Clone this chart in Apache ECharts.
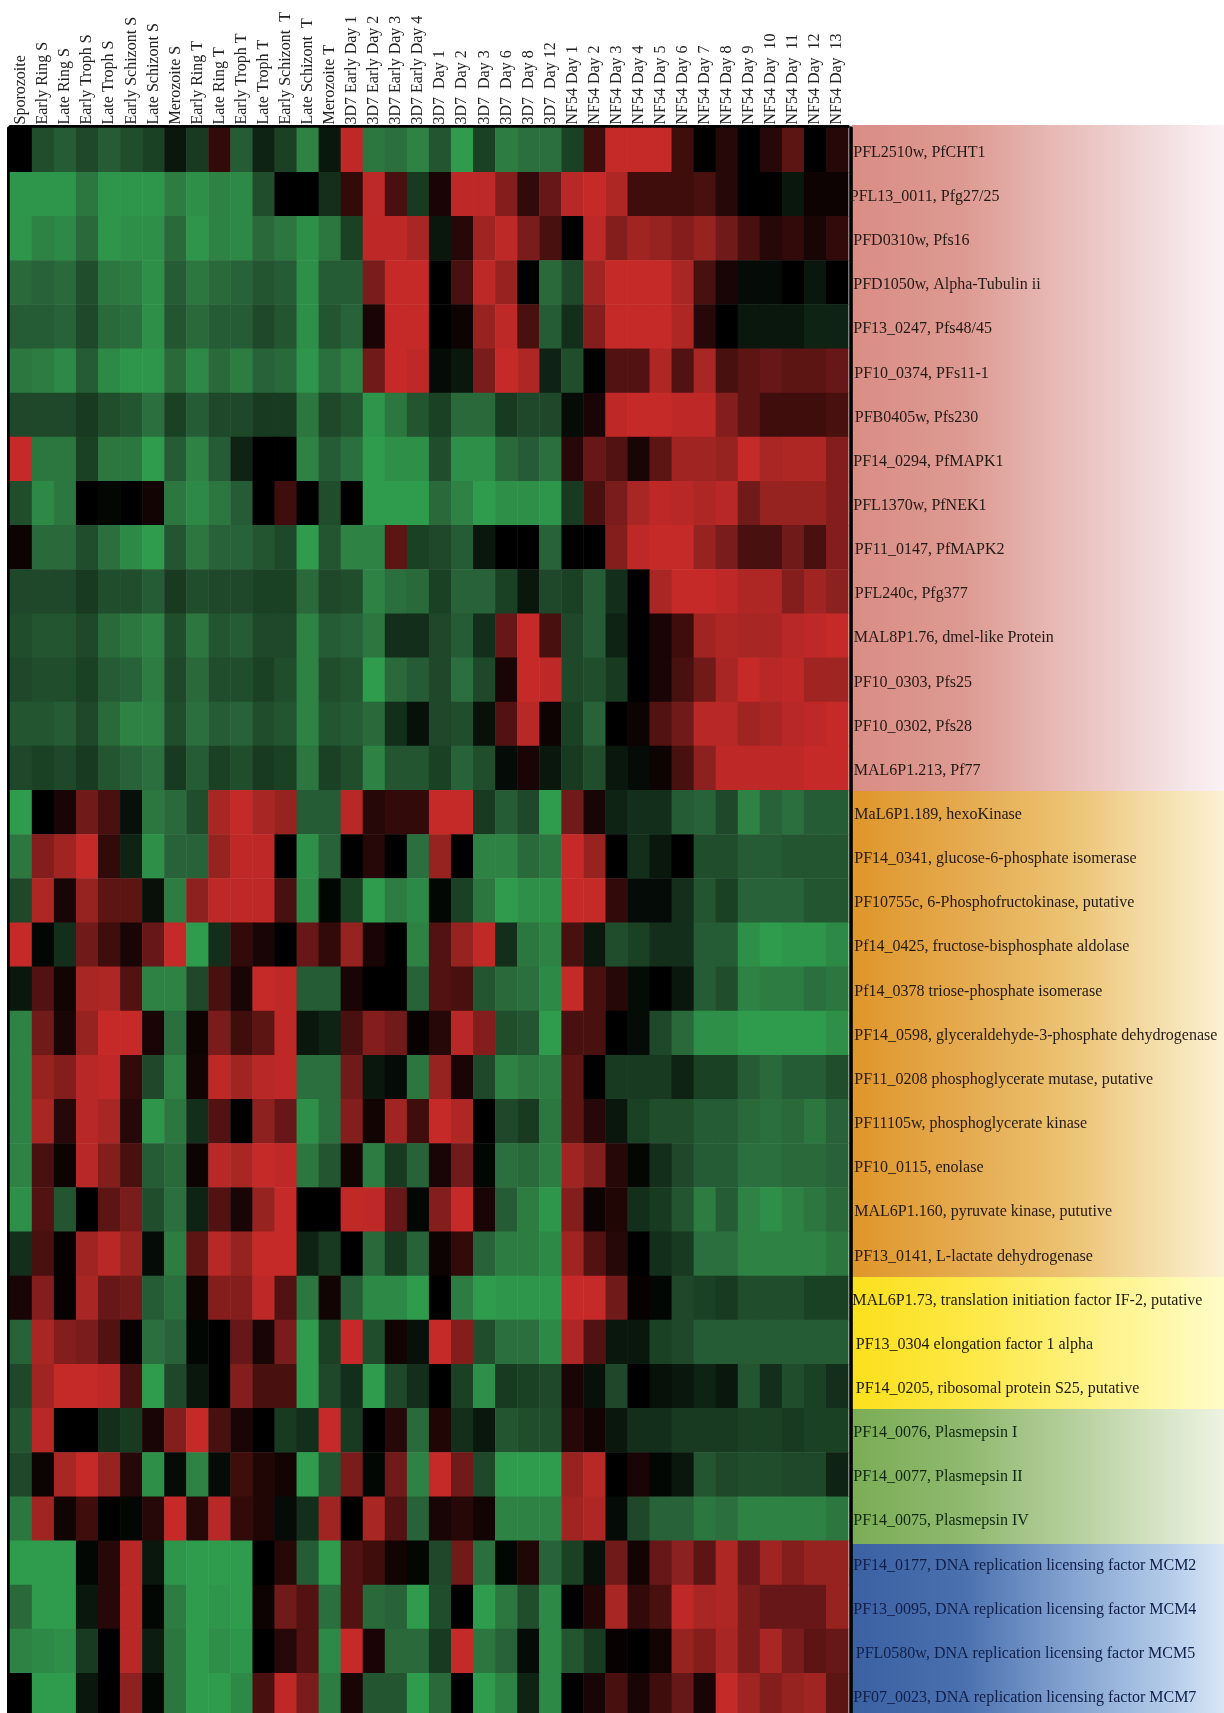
<!DOCTYPE html>
<html><head><meta charset="utf-8">
<script src="https://cdn.jsdelivr.net/npm/echarts@6/dist/echarts.min.js"></script>
<style>html,body{margin:0;padding:0;background:#fff;overflow:hidden;height:1713px}#c{width:1224px;height:1720px}</style>
</head><body><div id="c"></div>
<script>
const stages = ["Sporozoite","Early Ring S","Late Ring S","Early Troph S","Late Troph S","Early Schizont S","Late Schizont S","Merozoite S","Early Ring T","Late Ring T","Early Troph T","Late Troph T","Early Schizont  T","Late Schizont  T","Merozoite T","3D7 Early Day 1","3D7 Early Day 2","3D7 Early Day 3","3D7 Early Day 4","3D7  Day 1","3D7  Day 2","3D7  Day 3","3D7  Day 6","3D7  Day 8","3D7  Day 12","NF54 Day 1","NF54 Day 2","NF54 Day 3","NF54 Day 4","NF54 Day 5","NF54 Day 6","NF54 Day 7","NF54 Day 8","NF54 Day 9","NF54 Day  10","NF54 Day  11","NF54 Day  12","NF54 Day  13"];
const genes = ["PFL2510w, PfCHT1","PFL13_0011, Pfg27/25","PFD0310w, Pfs16","PFD1050w, Alpha-Tubulin ii","PF13_0247, Pfs48/45","PF10_0374, PFs11-1","PFB0405w, Pfs230","PF14_0294, PfMAPK1","PFL1370w, PfNEK1","PF11_0147, PfMAPK2","PFL240c, Pfg377","MAL8P1.76, dmel-like Protein","PF10_0303, Pfs25","PF10_0302, Pfs28","MAL6P1.213, Pf77","MaL6P1.189, hexoKinase","PF14_0341, glucose-6-phosphate isomerase","PF10755c, 6-Phosphofructokinase, putative","Pf14_0425, fructose-bisphosphate aldolase","Pf14_0378 triose-phosphate isomerase","PF14_0598, glyceraldehyde-3-phosphate dehydrogenase","PF11_0208 phosphoglycerate mutase, putative","PF11105w, phosphoglycerate kinase","PF10_0115, enolase","MAL6P1.160, pyruvate kinase, pututive","PF13_0141, L-lactate dehydrogenase","MAL6P1.73, translation initiation factor IF-2, putative","PF13_0304 elongation factor 1 alpha","PF14_0205, ribosomal protein S25, putative","PF14_0076, Plasmepsin I","PF14_0077, Plasmepsin II","PF14_0075, Plasmepsin IV","PF14_0177, DNA replication licensing factor MCM2","PF13_0095, DNA replication licensing factor MCM4","PFL0580w, DNA replication licensing factor MCM5","PF07_0023, DNA replication licensing factor MCM7"];

// expression level per gene (rows) and stage (columns): -10 green .. 0 black .. +10 red
const gametocyteRows = [
[0,-4,-5,-3.5,-5,-4,-3,-1,-2.5,2,-5,-1.5,-3,-8,-1,9.5,-7,-6.5,-8,-4.5,-10,-3,-7.5,-6.5,-6.5,-3,2.5,10,10,10,2.5,0,1.5,0,1.5,4,0,1.5],
[-9.5,-9.5,-9.5,-7,-9.5,-9.5,-9.5,-7.5,-9,-8,-8.5,-4,0,0,-2,2,9.5,3,-2.5,1,9.5,9.5,6,2,4.5,9,10,8.5,2.5,2.5,2.5,3,1.5,0,0,-1,0.5,0.5],
[-9.5,-8,-8.5,-6,-9.5,-9,-9,-6,-9.5,-8,-8.5,-6,-7,-9,-7,-3,9.5,9.5,8,-1,1.5,7.5,9.5,5.5,3,0,9.5,6,7.5,7,6,7,5,3,1.5,2,1,2],
[-6,-5.5,-6,-4,-7,-7.5,-9,-5,-7,-6,-5.5,-4.5,-5,-9,-5,-5,5.5,10,10,0,3,9.5,7,0,-6,-3.5,7.5,10,10,10,8,3,1,-0.5,-0.5,0,-1,0],
[-5,-5,-5.5,-3.5,-6,-6.5,-9,-4.5,-6,-5,-5,-3.5,-4.5,-9,-4.5,-5.5,1,10,10,0,0.5,7,9.5,3,-5,-2,6,10,10,10,8.5,1.5,0,-1,-1,-1,-1.5,-1.5],
[-7,-7.5,-8.5,-5,-8.5,-9.5,-9.5,-6,-8.5,-6,-7.5,-5.5,-6,-9.5,-6.5,-8,5,10,9.5,-0.5,-1,5.5,10,8.5,-1.5,-4,0,3.5,3.5,8.5,3.5,8,3,4,4.5,4,4,4.5],
[-3.5,-3.5,-3.5,-2.5,-4,-4.5,-6.5,-3,-5,-3.5,-3.5,-2.5,-2.5,-7,-3.5,-4.5,-9.5,-7,-4.5,-3,-6,-6,-2.5,-3.5,-3.5,-0.5,1,9.5,10,10,9.5,9.5,6,4,2.5,2.5,2.5,3],
[10,-7,-7,-3,-7,-7,-10,-5,-8,-5,-1.5,0,0,-8,-5,-6.5,-10,-9,-9,-4,-9,-9,-6,-5,-6.5,1.5,4.5,3.5,1,4,7.5,7.5,7,9.8,8,8.5,8.5,6],
[-4,-8.5,-7,0,-0.3,0,0.7,-7,-8.5,-7,-5,0,2.5,0,-4,0,-10,-10,-10,-6,-8,-10,-9,-9,-9.5,-2.5,3,5.5,8,9.5,9,8.5,9,5,7,7,7,6],
[0.5,-6,-6,-4,-6.5,-8.5,-10,-4.5,-7,-5.5,-5.5,-4.5,-3.5,-10,-4.5,-8,-8,4,-3,-3.5,-5,-1,0,0,-5.5,0,0,6,9.5,10,10,7,5.5,3,3,5,3,6],
[-3.5,-3.5,-3.5,-2.5,-4,-4,-5,-2.5,-4,-3.5,-3.5,-3,-3,-6,-3.5,-4,-8,-6.5,-6,-3,-5.5,-5.5,-3,-1,-3.5,-3,-5,-2,0,8,10,10,9.5,8.5,8.5,6,7.5,6.5],
[-4,-4.5,-4.5,-3.5,-6,-7,-8,-4,-7,-4.5,-5,-3.5,-3.5,-8,-5,-5.5,-7,-2,-2,-3.5,-5,-2,4.5,10,3,-3.5,-5,-1.5,0,1,2.5,7.5,8.5,8,8,9,9.5,10],
[-3.5,-4,-4,-3,-5,-5.5,-7.5,-3.5,-6,-4,-4,-3,-4,-8,-4,-4.5,-10,-6,-5,-3.5,-6.5,-3.5,1,10,9.5,-3.5,-4,-2.5,0,1,3,5,8,10,9,9.5,7.5,7.5],
[-4.5,-4.5,-5,-3.5,-6,-8,-8,-4,-6.5,-5,-5.5,-4,-4.5,-8,-4.5,-5,-6,-2,-0.7,-3.5,-4,-0.7,3.5,9,0.5,-3,-5.5,0,0.5,3.5,5,9,9,7.5,8,9,9.5,10],
[-3.5,-3,-3.5,-2.5,-4.5,-5.5,-6.5,-2.5,-5,-3,-4,-2.5,-3,-7,-3,-4,-8,-4.5,-4.5,-3,-5.5,-4,-0.5,1,-1,-2.5,-4,-1,-0.5,0.5,3,6.5,9.5,9.5,9.5,9.5,10,10]
];
const glycolysisRows = [
[-10,0,1,5,3,-0.7,-7,-6,-4,8,9.8,8,7,-5,-5,9,1.5,2,2,10,9.8,-2.5,-5,-3.5,-10,5,1,-1.5,-2,-2,-5,-5.5,-3.5,-8,-5.5,-6.5,-5,-5],
[-7,6,7.5,9.8,2,-1.5,-9,-5.5,-5.5,7,9.5,9.5,0,-9,-5.5,0,1.5,0,-6.5,7,0,-8,-8,-6,-7,10,7,0,-2,-1,0,-4,-4,-5,-5,-4.5,-4.5,-4.5],
[-3.5,8.5,1,7,4,4,-0.7,-7.5,6.5,9.5,9.5,9.5,3,-8.5,-0.3,-3,-10,-7.5,-8.5,-0.3,-3,-7,-10,-9,-9,10,9.8,2,-0.5,-0.5,-2,-4.5,-3,-5.5,-5.5,-5.5,-4.5,-4.5],
[10,-0.3,-2,5,2.5,1,4.5,10,-10,-2,2,1,0,4.5,2,7,1,0,-8,3.5,7,9.7,-2,-7,-8,3,-1,-4,-3,-2,-2,-5,-5,-9,-10,-9.5,-9.5,-8.5],
[-1,3.5,0.7,8,8.5,3.5,-8,-8,-3.5,3,1,10,9.5,-5,-5,1,0,0,-5.5,3.5,3,-4.5,-6,-6.5,-8.5,9.8,3,1.5,-0.5,0,-1,-5,-4,-8,-7.5,-7.5,-6.5,-7],
[-8,5,1,7,10,10,1,-6.5,0.5,5.5,2.5,4,9.5,-1,-1.5,3,6,5,0.3,1.5,9,6,-4,-4.5,-10,3,3,0,-0.5,-3.5,-6,-9,-9,-10,-10,-10,-10,-9],
[-8,7,6,9,9.5,2,-3.5,-8,0.7,9.5,7.5,9,9.5,-6.5,-6.5,5,-1,-0.5,-7,7,1,-3.5,-8,-7,-7.5,4,0,-2.5,-2.5,-2.5,-1.5,-3,-3,-5,-6,-5,-5,-4],
[-8,8,1.5,9,8,1.5,-9.5,-7,-2,3.5,0,6.5,4.5,-9,-6.5,6,0.7,7.5,2.5,10,8.5,0,-3.5,-2.5,-7,4,1.5,-1,-3,-4,-4,-5,-5,-6,-6.5,-6,-7,-5.5],
[-8,3,0.5,9,6,3,-5,-6,0.5,9,8,10,9.5,-7,-4.5,0.7,-7.5,-2.5,-5.5,1,5,-0.3,-6.5,-6,-7.5,7.5,6,1.5,-0.3,-2,-3.5,-5,-5,-6.5,-6.5,-6,-6,-5.5],
[-9,3.5,-4.5,0,4,5.5,-4,-6.5,-1.5,3.5,1,7,10,0,0,9.7,9.5,4.5,-0.3,6,10,1,-5,-7.5,-9.5,6,0.5,1.3,-2,-2.5,-4.5,-7.5,-5,-8,-9,-8,-7,-6],
[-2,3,0.3,7.5,9,7,-0.5,-7.5,4,9,7,10,10,-1.5,-2.5,0,-6,-2.5,-5.5,0.5,2,-5.5,-7.5,-7.5,-8.5,7.5,3.5,1.5,0,-2,-2.5,-6.5,-6.5,-8,-8,-8,-8,-7]
];
const translationRows = [
[1,6,0.3,8,4.5,5,-5,-6.5,0.5,6,6,9.5,3.5,-7,0.7,-5,-8.5,-8.5,-10,0,-7.5,-10,-9.5,-9.5,-9.5,10,10,5,0.3,-0.3,-3.5,-3,-2.5,-4,-4,-4,-3,-3],
[-5.5,8,6,5.5,3.5,0.3,-6.5,-5.5,-0.3,0,4.5,1,5.5,-10,-3,10,-4,0.7,-0.7,10,6,-4,-6.5,-6.5,-8.5,8.5,3.5,-1,-1,-3,-3.5,-5,-5,-5,-5,-5,-5,-5],
[-3.5,7.5,10,10,9.5,3,-10,-3.5,-1,0,6,3,3,-10,-3.5,-2,-10,-3.5,-2,0,-3,-9,-2.5,-3,-3.5,1,-0.7,-3.5,0,-0.7,-1,-1.5,-1,-4.5,-2,-4,-3,-2]
];
const plasmepsinRows = [
[-4.5,9,0,0,-2,-2.5,1,6,10,3,1,0,-2.5,-2,10,-2.5,0,1.5,-6,1.3,-2,-1,-4.5,-4,-4,1.5,0.7,-1,-2,-2,-2.5,-2.5,-2.5,-3,-3,-2.5,-3,-3],
[-3.5,0.5,8,10,7,1.5,-9,-0.5,-8,-0.5,2.5,1.3,0.7,-10,-4.5,5.5,-0.3,5,-8,10,5,-3.5,-10,-10,-10,7,9,0,1,-0.3,-1,-4.5,-3.5,-4,-4,-3.5,-3.5,-1.5],
[-7,7.5,0.7,2.5,0,-0.3,1.5,10,1.5,9,2,1.3,-0.5,-2,7.5,0,8,3.5,-5.5,1,1.5,0.7,-8,-8,-8,7.5,8.5,-0.5,-3.5,-5.5,-5.5,-7,-6.5,-8,-8,-8,-8,-7]
];
const replicationRows = [
[-10,-10,-10,-0.3,1.5,9,-1,-9.5,-10,-10,-10,0,1.5,-5,-10,3.5,2.5,0.7,-0.3,-3.5,5,-6.5,-0.3,1.3,-5.5,-3,-0.7,5,0.7,4.5,6.5,4,8.5,4.5,7.5,6,7,7],
[-6,-10,-10,-1,1.5,9,-0.3,-7.5,-10,-9.5,-10,0.5,5,3.5,-6.5,3.5,-6,-5.5,-10,-4,0,-10,-7,-4,-8.5,0,1.3,8,2,3,9.5,8,8.5,5.5,4.5,4.5,4.5,7],
[-8,-8.5,-9,-2.5,0,9,-1.2,-7,-10,-9,-9.5,0,1.5,3.5,-8.5,10,1,-6,-6,-2.5,9.8,-7,-5.5,-0.5,-8.5,-4.5,-2.5,0.3,0,0.7,7,6,8,5.5,8,5.5,4,4.5],
[0,-10,-10,-1,0,6.5,-0.3,-7,-10,-10,-8.5,3,9.5,5.5,-7.5,1,-4.5,-4.5,-10,-6,0,-10,-8,-1.5,-8.5,0,1,3,1,2.5,4.5,1,9.8,7.5,6,7,7.5,4]
];
const values = gametocyteRows.concat(glycolysisRows, translationRows, plasmepsinRows, replicationRows);

// colour ramp, evenly spaced from level -10 to level +10
const ramp = ['#2e9c4c','#2d7c42','#265c35','#183a21','#000000','#3e0d0c','#711a1a','#a02522','#c62a28'];
// first-glyph x position of each row label, relative to the label origin
const labelIndent = [4,0.5,4,4,4,5,5.5,4,4,5.5,5.5,4.5,4.5,4.5,4.5,5,5,5,5,5,5,5,5,5,5,5,3,6.5,6.5,4,4,4,4,4,6.5,4];
const labelColor = i => i < 26 ? '#241a14' : i < 29 ? '#1c1a08' : i < 32 ? '#10280f' : '#101f4a';

const heat = [];
values.forEach((row, y) => row.forEach((v, x) => heat.push([x, y, v])));
const rich = {};
genes.forEach((g, i) => { rich['r' + i] = {padding:[5,0,0,labelIndent[i]], fontFamily:'Liberation Serif', fontSize:16, color:labelColor(i)}; });

const band = (y1, y2, stops) => ({
  type:'rect', z:-10, shape:{x:852, y:y1, width:372, height:y2-y1},
  style:{fill:new echarts.graphic.LinearGradient(0,0,1,0,stops.map(s=>({offset:s[0],color:s[1]})))}
});

const chart = echarts.init(document.getElementById('c'), null, {renderer:'canvas', width:1224, height:1720});
chart.setOption({
  animation:false,
  backgroundColor:'#fff',
  grid:{left:10, top:128, width:838.3, height:1589.4, containLabel:false},
  graphic:{elements:[
    band(125,791,[[0,'#d98d85'],[0.3,'#dd9a92'],[0.6,'#e9c0bd'],[0.85,'#f3e0e2'],[1,'#fbf2f5']]),
    band(791,1277,[[0,'#df962a'],[0.3,'#e5aa4e'],[0.6,'#ecc475'],[0.8,'#f4dca6'],[1,'#fcf1d3']]),
    band(1277,1409,[[0,'#fbe01c'],[0.35,'#fde94a'],[0.65,'#fef284'],[1,'#fffcc8']]),
    band(1409,1544,[[0,'#7bad55'],[0.3,'#8fb96f'],[0.6,'#b6d09d'],[0.85,'#d9e6c9'],[1,'#eef3e2']]),
    band(1544,1720,[[0,'#3c61a3'],[0.3,'#4a70ae'],[0.6,'#86a5d2'],[0.85,'#b3cbe9'],[1,'#d8e6f7']])
  ]},
  xAxis:{
    type:'category', position:'top', data:stages, offset:1.5,
    axisLine:{show:true, lineStyle:{color:'#000', width:3}},
    axisTick:{show:false}, splitLine:{show:false},
    axisLabel:{interval:0, rotate:-90, margin:2, fontFamily:'Liberation Serif', fontSize:16, color:'#222', hideOverlap:false}
  },
  yAxis:[{
    type:'category', position:'right', inverse:true, data:genes, offset:2,
    axisLine:{show:true, lineStyle:{color:'#000', width:3.6}},
    axisTick:{show:false}, splitLine:{show:false},
    axisLabel:{interval:0, margin:-1, align:'left', hideOverlap:false, rich:rich,
      formatter:(v, i) => '{r' + i + '|' + v + '}'}
  },{
    type:'category', position:'left', inverse:true, data:genes, offset:1.5,
    axisLine:{show:true, lineStyle:{color:'#000', width:3}},
    axisTick:{show:false}, axisLabel:{show:false}, splitLine:{show:false}
  }],
  visualMap:{show:false, type:'continuous', min:-10, max:10, dimension:2, inRange:{color:ramp}},
  series:[{type:'heatmap', data:heat, xAxisIndex:0, yAxisIndex:0, itemStyle:{borderWidth:0}, emphasis:{disabled:true}, progressive:0}]
});
</script></body></html>
